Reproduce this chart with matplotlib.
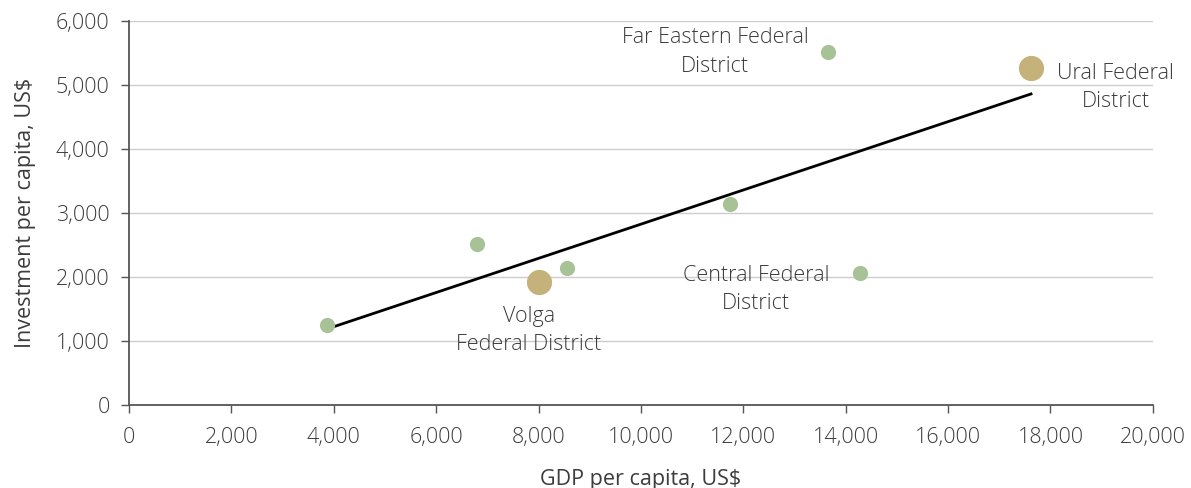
import numpy as np
import matplotlib
matplotlib.use("Agg")
import matplotlib.pyplot as plt
from matplotlib.ticker import FuncFormatter

# GDP per capita vs investment per capita by region, US$
gdp = [3870, 6800, 8550, 11740, 14280, 13650, 8000, 17620]
invest = [1250, 2515, 2140, 3140, 2065, 5515, 1920, 5265]
big = [False, False, False, False, False, False, True, True]
labels = ["", "", "", "", "Central Federal\nDistrict", "Far Eastern Federal\nDistrict",
          "Volga\nFederal District", "Ural Federal\nDistrict"]

plt.rcParams['font.family'] = ['Open Sans', 'DejaVu Sans']
plt.rcParams['font.weight'] = 300
txt = '#3c3c3c'

fig = plt.figure(figsize=(11.91, 4.88), dpi=100)
ax = fig.add_axes([0.1083, 0.17, 0.8597, 0.787])

gdp_a = np.array(gdp)
inv_a = np.array(invest)
big_a = np.array(big)

# trend line
k, b = np.polyfit(gdp_a, inv_a, 1)
xl = np.array([gdp_a.min(), gdp_a.max()])
ax.plot(xl, k * xl + b, color='black', lw=2, zorder=2)

ax.scatter(gdp_a[~big_a], inv_a[~big_a], s=120, color='#a6c296', zorder=3, linewidths=0)
ax.scatter(gdp_a[big_a], inv_a[big_a], s=330, color='#c5b17a', zorder=3, linewidths=0)

# annotations
offs = {4: (-22, -12, 'right', 'center'), 5: (-14, 0, 'right', 'center'),
        6: (-7, -17, 'center', 'top'), 7: (19, -14, 'left', 'center')}
for i, lab in enumerate(labels):
    if not lab:
        continue
    dx, dy, ha, va = offs[i]
    ax.annotate(lab, (gdp[i], invest[i]), xytext=(dx, dy), textcoords='offset points',
                ha=ha, va=va, fontsize=15.5, color=txt, multialignment='center',
                linespacing=1.45)

ax.set_xlim(0, 20000)
ax.set_ylim(0, 6000)
ax.set_xticks(np.arange(0, 20001, 2000))
ax.set_yticks(np.arange(0, 6001, 1000))
fmt = FuncFormatter(lambda v, p: f"{int(v):,}")
ax.xaxis.set_major_formatter(fmt)
ax.yaxis.set_major_formatter(fmt)
ax.grid(axis='y', color='#cccccc', lw=1)
ax.set_axisbelow(True)
for s in ['top', 'right']:
    ax.spines[s].set_visible(False)
for s in ['left', 'bottom']:
    ax.spines[s].set_color('#555555')
    ax.spines[s].set_linewidth(1.3)
ax.tick_params(axis='both', colors='#555555', labelcolor=txt, labelsize=15.5, length=6, width=1)
ax.tick_params(axis='x', pad=10)
ax.tick_params(axis='y', pad=8)
ax.set_xlabel("GDP per capita, US$", fontsize=15.5, color=txt, labelpad=15)
ax.set_ylabel("Investment per capita, US$", fontsize=15.5, color=txt, labelpad=14)

fig.savefig("out.png", dpi=100)
